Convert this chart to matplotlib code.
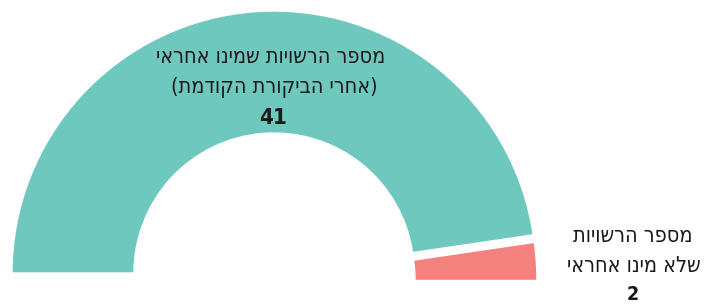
import matplotlib
matplotlib.use('Agg')
import matplotlib.pyplot as plt
from matplotlib.patches import Wedge

# data
values = [41, 2]
labels = [['מספר הרשויות שמינו אחראי', '(אחרי הביקורת הקודמת)'],
          ['מספר הרשויות', 'שלא מינו אחראי']]
colors = ['#6fc8be', '#f4817e']


def visual(s):
    # matplotlib has no bidi support: reverse hebrew and mirror brackets
    s = s[::-1]
    return s.translate(str.maketrans('()', ')('))


W, H = 705, 305
fig = plt.figure(figsize=(W / 100, H / 100), dpi=100)
ax = fig.add_axes([0, 0, 1, 1])
ax.set_xlim(0, W)
ax.set_ylim(H, 0)
ax.axis('off')

cx, cy = 274, 273
r_out, r_in = 262, 140
total = sum(values)
# second slice is pulled down a little
offsets = [(0, 0), (1, 7.5)]

# inverted y axis: the upper half is 180..360 degrees
start = 180
for v, c, (dx, dy) in zip(values, colors, offsets):
    span = 180 * v / total
    ax.add_patch(Wedge((cx + dx, cy + dy), r_out, start, start + span,
                       width=r_out - r_in, facecolor=c, edgecolor='white', linewidth=1))
    start += span

font = dict(family=['DejaVu Sans'], fontstretch='condensed', color='#1a1a1a', ha='center')
fs = 15.5

# main slice label
ax.text(271, 63, visual(labels[0][0]), fontsize=fs, va='baseline', **font)
ax.text(274, 93, visual(labels[0][1]), fontsize=fs, va='baseline', **font)
ax.text(273, 124, str(values[0]), fontsize=16, fontweight='bold', va='baseline', **font)

# small slice label
ax.text(633, 242, visual(labels[1][0]), fontsize=fs, va='baseline', **font)
ax.text(634, 272, visual(labels[1][1]), fontsize=fs, va='baseline', **font)
ax.text(633, 300, str(values[1]), fontsize=14, fontweight='bold', va='baseline', **font)

fig.savefig('out.png', dpi=100)
